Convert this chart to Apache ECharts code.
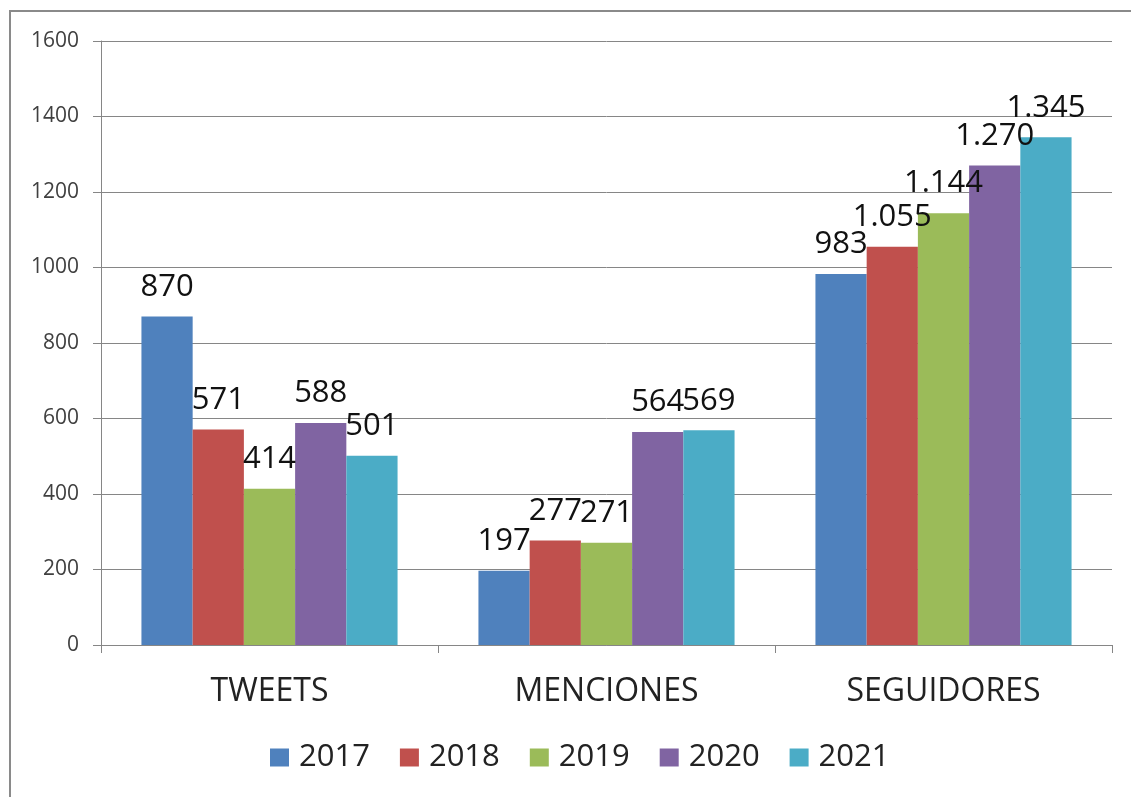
<!DOCTYPE html>
<html>
<head>
<meta charset="utf-8">
<script src="https://cdn.jsdelivr.net/npm/echarts@6/dist/echarts.min.js"></script>
<style>
  html, body { margin: 0; padding: 0; background: #fff; }
  #frame { position: absolute; left: 9px; top: 10px; width: 1122px; height: 787px; border-left: 2px solid #8a8a8a; border-top: 2px solid #8a8a8a; box-sizing: border-box; }
  #chart { position: absolute; left: 0; top: 0; width: 1131px; height: 797px; }
</style>
</head>
<body>
<div id="frame"></div>
<div id="chart"></div>
<script>
const categories = ['TWEETS', 'MENCIONES', 'SEGUIDORES'];
const years = ['2017', '2018', '2019', '2020', '2021'];
const values2017 = [870, 197, 983];
const values2018 = [571, 277, 1055];
const values2019 = [414, 271, 1144];
const values2020 = [588, 564, 1270];
const values2021 = [501, 569, 1345];
const yTicks = [0, 200, 400, 600, 800, 1000, 1200, 1400, 1600];
const colors = ['#4F81BD', '#C0504D', '#9BBB59', '#8064A2', '#4BACC6'];

const seriesValues = [values2017, values2018, values2019, values2020, values2021];
const FONT = '"Open Sans", "Noto Sans", sans-serif';

function fmt(v) {
  return String(v).replace(/\B(?=(\d{3})+(?!\d))/g, '.');
}

const chart = echarts.init(document.getElementById('chart'), null, { renderer: 'canvas' });
chart.setOption({
  animation: false,
  backgroundColor: 'transparent',
  color: colors,
  grid: { left: 101, right: 19, top: 41, bottom: 152, containLabel: false },
  legend: {
    data: years,
    left: 265,
    top: 737,
    itemWidth: 19,
    itemHeight: 18,
    itemGap: 30,
    icon: 'rect',
    textStyle: { fontFamily: FONT, fontSize: 31, color: '#222', padding: [0, 0, 0, 5] }
  },
  xAxis: {
    type: 'category',
    data: categories,
    axisLine: { show: true, lineStyle: { color: '#868686', width: 1 } },
    axisTick: { show: true, length: 8, lineStyle: { color: '#868686' } },
    axisLabel: { fontFamily: FONT, fontSize: 32, color: '#222', margin: 31 },
    splitLine: { show: false }
  },
  yAxis: {
    type: 'value',
    min: yTicks[0],
    max: yTicks[yTicks.length - 1],
    interval: yTicks[1] - yTicks[0],
    axisLine: { show: true, lineStyle: { color: '#868686', width: 1 } },
    axisTick: { show: true, length: 8, lineStyle: { color: '#868686' } },
    axisLabel: { fontFamily: FONT, fontSize: 21, color: '#404040', margin: 22, formatter: v => String(v) },
    splitLine: { show: true, lineStyle: { color: '#868686', width: 1 } }
  },
  series: years.map((y, i) => ({
    name: y,
    type: 'bar',
    data: seriesValues[i],
    barGap: '0%',
    barCategoryGap: '24%',
    itemStyle: { color: colors[i] },
    label: {
      show: true,
      position: 'top',
      distance: 14,
      fontFamily: FONT,
      fontSize: 31,
      color: '#111',
      formatter: p => fmt(p.value)
    }
  }))
});
</script>
</body>
</html>
